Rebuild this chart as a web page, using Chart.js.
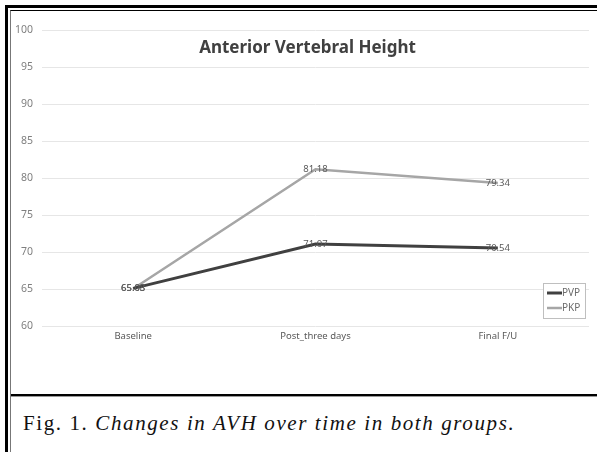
<!DOCTYPE html>
<html>
<head>
<meta charset="utf-8">
<script src="https://cdn.jsdelivr.net/npm/chart.js@4"></script>
<style>
body { margin: 0; background: #fff; }
#page { position: relative; width: 597px; height: 452px; overflow: hidden; }
#bordOut { position: absolute; left: 5px; top: 5px; width: 600px; height: 460px; border-left: 3px solid #000; border-top: 3px solid #000; }
#bordIn { position: absolute; left: 10px; top: 10px; width: 600px; height: 460px; border-left: 1px solid #777; border-top: 1px solid #000; }
#sep { position: absolute; left: 11px; top: 394px; width: 600px; height: 2px; background: #000; border-bottom: 1px solid #999; }
#zone { position: absolute; left: 11px; top: 11px; width: 586px; height: 383px; }
#legende { position: absolute; left: 23px; top: 411px; font-family: "Liberation Serif", serif; font-size: 21px; letter-spacing: 1.6px; color: #111; white-space: nowrap; }
</style>
</head>
<body>
<div id="page">
  <div id="bordOut"></div>
  <div id="bordIn"></div>
  <div id="zone"><canvas id="graphAVH" width="586" height="383"></canvas></div>
  <div id="sep"></div>
  <div id="legende">Fig. 1. <i>Changes in AVH over time in both groups.</i></div>
</div>
<script>
// données
const temps = ["Baseline", "Post_three days", "Final F/U"];
const valeursPVP = [65.08, 71.07, 70.54];
const valeursPKP = [65.03, 81.18, 79.34];
const ticksY = [60, 65, 70, 75, 80, 85, 90, 95, 100];
const titre = "Anterior Vertebral Height";

// titre, étiquettes et légende dessinés à la main
const decor = {
  id: "decor",
  afterDatasetsDraw(chart) {
    const ctx = chart.ctx;
    const zone = chart.chartArea;
    ctx.save();
    // étiquettes des valeurs
    ctx.font = "9.5px 'Noto Sans'";
    ctx.fillStyle = "#595959";
    ctx.textAlign = "center";
    ctx.textBaseline = "middle";
    chart.data.datasets.forEach((ds, i) => {
      chart.getDatasetMeta(i).data.forEach((pt, j) => {
        ctx.fillText(ds.data[j].toFixed(2), pt.x, pt.y);
      });
    });
    // titre
    ctx.font = "bold 17px 'Noto Sans'";
    ctx.fillStyle = "#404040";
    ctx.fillText(titre, (zone.left + zone.right) / 2 - 8, 37);
    // légende
    const w = 42, h = 35;
    const x0 = zone.right - 4 - w, y0 = zone.bottom - 8 - h;
    ctx.fillStyle = "#fff";
    ctx.fillRect(x0, y0, w, h);
    ctx.strokeStyle = "#bfbfbf";
    ctx.lineWidth = 1;
    ctx.strokeRect(x0 + 0.5, y0 + 0.5, w, h);
    ctx.font = "10px 'Noto Sans'";
    ctx.textAlign = "left";
    chart.data.datasets.forEach((ds, i) => {
      const y = y0 + 10 + i * 15;
      ctx.strokeStyle = ds.borderColor;
      ctx.lineWidth = ds.borderWidth;
      ctx.beginPath();
      ctx.moveTo(x0 + 4, y);
      ctx.lineTo(x0 + 19, y);
      ctx.stroke();
      ctx.fillStyle = "#6b6b6b";
      ctx.fillText(ds.label, x0 + 19, y);
    });
    ctx.restore();
  }
};

const ctx = document.getElementById("graphAVH").getContext("2d");

new Chart(ctx, {
  type: "line",
  data: {
    labels: temps,
    datasets: [
      { label: "PVP", data: valeursPVP, borderColor: "#404040", borderWidth: 3, pointRadius: 0, tension: 0 },
      { label: "PKP", data: valeursPKP, borderColor: "#a6a6a6", borderWidth: 2.5, pointRadius: 0, tension: 0 }
    ]
  },
  options: {
    responsive: false,
    animation: false,
    layout: { padding: { left: 0, right: 8, top: 19, bottom: 0 } },
    plugins: { legend: { display: false }, tooltip: { enabled: false } },
    scales: {
      x: {
        offset: true,
        grid: { display: false, drawTicks: false },
        border: { display: false },
        ticks: { color: "#595959", font: { family: "Noto Sans", size: 9.5 }, padding: 5, maxRotation: 0 },
        afterFit(s) { s.height = 68; }
      },
      y: {
        min: 60, max: 100,
        afterBuildTicks(s) { s.ticks = ticksY.map(v => ({ value: v })); },
        grid: { color: "#e6e6e6", drawTicks: false },
        border: { display: false },
        ticks: { color: "#7f7f7f", font: { family: "Noto Sans", size: 10.5 }, padding: 9 },
        afterFit(s) { s.width = 31; }
      }
    }
  },
  plugins: [decor]
});
</script>
</body>
</html>
